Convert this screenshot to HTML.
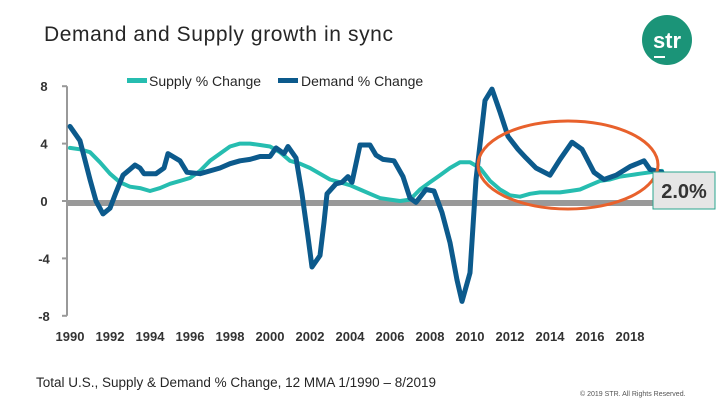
<!DOCTYPE html>
<html><head><meta charset="utf-8"><style>
body{margin:0;width:720px;height:405px;background:#fff;overflow:hidden;font-family:"Liberation Sans","DejaVu Sans",sans-serif}
svg{display:block}
</style></head><body>
<svg id="c" width="720" height="405">
<text x="44" y="41" font-size="21" letter-spacing="0.6" fill="#262626">Demand and Supply growth in sync</text>
<g>
<circle cx="667" cy="40" r="25" fill="#1b9478"/>
<text x="667" y="48" font-size="22" font-weight="bold" fill="#fff" text-anchor="middle">str</text>
<rect x="654" y="56" width="11" height="2" fill="#fff"/>
</g>
<g>
<rect x="127" y="78" width="20" height="5" fill="#26bdb0"/>
<text x="149" y="86" font-size="14" fill="#262626">Supply % Change</text>
<rect x="278" y="78" width="20" height="5" fill="#0c5a8c"/>
<text x="301" y="86" font-size="14" fill="#262626">Demand % Change</text>
</g>
<g id="axes"></g>
<g id="series"></g>
<ellipse cx="568" cy="165" rx="90" ry="44" fill="none" stroke="#e8612c" stroke-width="3"/>
<g>
<rect x="653" y="172" width="62" height="37" fill="#e6e6e6" stroke="#2aa58f" stroke-width="1"/>
<text x="684" y="198" font-size="20" font-weight="bold" fill="#333" text-anchor="middle">2.0%</text>
</g>
<text x="36" y="387" font-size="13.5" fill="#262626">Total U.S., Supply &amp; Demand % Change, 12 MMA  1/1990 – 8/2019</text>
<text x="580" y="396" font-size="7" fill="#555">© 2019 STR. All Rights Reserved.</text>
</svg>
<script>
const yTicks=[8,4,0,-4,-8];
const xTicks=[1990,1992,1994,1996,1998,2000,2002,2004,2006,2008,2010,2012,2014,2016,2018];
const demandYears=[1990,1990.5,1991,1991.3,1991.65,1992,1992.3,1992.65,1993.25,1993.5,1993.7,1994.3,1994.7,1994.9,1995.5,1995.85,1996.5,1997,1997.5,1998,1998.5,1999,1999.5,2000,2000.3,2000.7,2000.9,2001.3,2001.6,2001.9,2002.1,2002.5,2002.7,2002.85,2003.3,2003.6,2003.9,2004.1,2004.5,2005,2005.3,2005.65,2006.2,2006.65,2007,2007.3,2007.8,2008.2,2008.6,2009,2009.35,2009.6,2010,2010.3,2010.75,2011.1,2011.5,2011.9,2012.4,2012.8,2013.3,2014,2014.5,2015.1,2015.6,2016.2,2016.7,2017.3,2018,2018.7,2019,2019.6];
const demandValues=[5.2,4.2,1.5,0,-0.9,-0.5,0.6,1.8,2.5,2.3,1.9,1.9,2.3,3.3,2.8,2.0,1.9,2.1,2.3,2.6,2.8,2.9,3.1,3.1,3.7,3.3,3.8,3.0,0.5,-2.5,-4.6,-3.8,-1.5,0.5,1.2,1.3,1.7,1.3,3.9,3.9,3.2,2.9,2.8,1.7,0.2,-0.1,0.8,0.7,-0.8,-2.9,-5.5,-7.0,-5.0,1.5,7.0,7.8,6.2,4.5,3.6,3.0,2.3,1.8,2.9,4.1,3.6,2.0,1.5,1.8,2.4,2.8,2.2,2.0];
const supplyYears=[1990,1990.5,1991,1991.5,1992,1992.5,1993,1993.5,1994,1994.5,1995,1995.5,1996,1996.5,1997,1997.5,1998,1998.5,1999,1999.5,2000,2000.5,2001,2001.5,2002,2002.5,2003,2003.5,2004,2004.5,2005,2005.5,2006,2006.5,2007,2007.5,2008,2008.5,2009,2009.5,2010,2010.5,2011,2011.5,2012,2012.5,2013,2013.5,2014,2014.5,2015,2015.5,2016,2016.5,2017,2017.5,2018,2018.5,2019,2019.6];
const supplyValues=[3.7,3.6,3.4,2.7,1.9,1.3,1.0,0.9,0.7,0.9,1.2,1.4,1.6,2.1,2.8,3.3,3.8,4.0,4.0,3.9,3.8,3.4,2.8,2.6,2.3,1.9,1.5,1.3,1.1,0.8,0.5,0.2,0.1,0.0,0.1,0.8,1.3,1.8,2.3,2.7,2.7,2.3,1.4,0.8,0.4,0.3,0.5,0.6,0.6,0.6,0.7,0.8,1.1,1.4,1.5,1.7,1.8,1.9,2.0,2.1];
const NS='http://www.w3.org/2000/svg';
const xS=y=>70+20*(y-1990);
const yS=v=>201-14.35*v;
function mk(t,a,p){const e=document.createElementNS(NS,t);for(const k in a)e.setAttribute(k,a[k]);p.appendChild(e);return e;}
const ax=document.getElementById('axes');
const yl=mk('line',{x1:67,y1:yS(8),x2:67,y2:yS(-8),stroke:'#999','stroke-width':2},ax);


yTicks.forEach(v=>{
 mk('line',{x1:62,y1:yS(v),x2:67,y2:yS(v),stroke:'#999','stroke-width':2},ax);
 const t=mk('text',{x:44,y:yS(v)+5,'font-size':13,'font-weight':'bold',fill:'#333','text-anchor':'middle'},ax);
 t.textContent=v;
 
 
});
xTicks.forEach(y=>{
 const t=mk('text',{x:xS(y),y:341,'font-size':13,'font-weight':'bold',fill:'#333','text-anchor':'middle'},ax);
 t.textContent=y;
 
 
});
const zl=mk('rect',{x:68,y:yS(0)-1,width:xS(2019.6)-68,height:6,fill:'#999'},ax);


const sg=document.getElementById('series');
function line(xs,vs,col,w,name){
 const d=xs.map((y,i)=>(i?'L':'M')+xS(y).toFixed(1)+' '+yS(vs[i]).toFixed(1)).join(' ');
 const p=mk('path',{d:d,fill:'none',stroke:col,'stroke-width':w,'stroke-linejoin':'round','stroke-linecap':'round'},sg);
 
 
}
line(supplyYears,supplyValues,'#26bdb0',4,'supply-line');
line(demandYears,demandValues,'#0c5a8c',5,'demand-line');
</script>
</body></html>
